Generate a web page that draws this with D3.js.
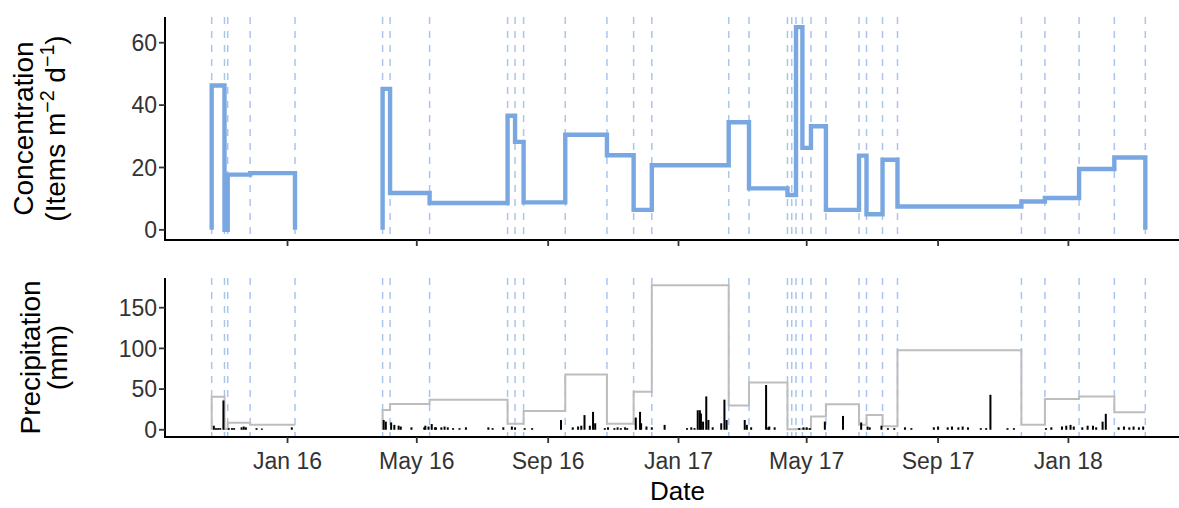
<!DOCTYPE html>
<html>
<head>
<meta charset="utf-8">
<script src="https://cdn.jsdelivr.net/npm/d3@7"></script>
<style>
  html, body { margin: 0; padding: 0; background: #ffffff; }
  svg { display: block; font-family: "Liberation Sans", Arial, Helvetica, sans-serif; }
</style>
</head>
<body>
<svg id="chart" width="1179" height="508"></svg>
<script>
// Sampling dates (trap deployment / collection), one dashed line each
const sampleDates = [
  "2015-10-22","2015-11-03","2015-11-06","2015-11-27","2016-01-08",
  "2016-03-30","2016-04-06","2016-05-13","2016-07-25","2016-08-01",
  "2016-08-09","2016-09-17","2016-10-26","2016-11-20","2016-12-07",
  "2017-02-17","2017-03-08","2017-04-13","2017-04-17","2017-04-21",
  "2017-04-27","2017-05-05","2017-05-19","2017-06-19","2017-06-26",
  "2017-07-11","2017-07-25","2017-11-18","2017-12-10","2018-01-11",
  "2018-02-13","2018-03-14"
];

// Concentration for each interval that starts at sampleDates[i] (null = no sampling)
const concentration = [
  46.3, 0, 17.7, 18.2, null,
  45.2, 11.8, 8.6, 36.6, 28.2,
  8.8, 30.5, 23.9, 6.4, 20.7,
  34.5, 13.3, 11.2, 11.2, 65.0,
  26.3, 33.2, 6.4, 23.8, 5.0,
  22.5, 7.5, 9.1, 10.2, 19.5,
  23.2
];

// Total precipitation over each sampling interval (mm)
const intervalPrecip = [
  40.7, 1, 8.5, 6.1, null,
  24.4, 31.7, 37, 7.5, 7.3,
  23, 68, 7.3, 46.8, 177.6,
  29.7, 58.2, 0.5, 0.5, 1,
  0.8, 16.3, 31.3, 6.1, 18.3,
  4.4, 97.8, 6.1, 37.8, 41,
  21.5
];

// Daily precipitation (mm)
const rainDays = [
  "2015-10-24","2015-10-26","2015-10-28","2015-10-30","2015-11-02","2015-11-07","2015-11-10","2015-11-12",
  "2015-11-19","2015-11-21","2015-11-23","2015-12-03","2015-12-08","2016-01-05",
  "2016-03-31","2016-04-02","2016-04-07","2016-04-10","2016-04-14","2016-04-16","2016-04-26",
  "2016-05-08","2016-05-09","2016-05-12","2016-05-15","2016-05-18","2016-05-19","2016-05-24","2016-05-27","2016-05-30",
  "2016-06-04","2016-06-10","2016-06-16","2016-07-07","2016-07-11","2016-07-21","2016-07-29","2016-08-01",
  "2016-08-10","2016-08-17","2016-09-13","2016-09-24","2016-09-29","2016-10-02","2016-10-05","2016-10-10",
  "2016-10-13","2016-10-15","2016-10-24","2016-10-27","2016-11-02","2016-11-05","2016-11-08","2016-11-12",
  "2016-11-14","2016-11-22","2016-11-26","2016-11-27","2016-12-02","2016-12-07","2016-12-19",
  "2017-01-09","2017-01-13","2017-01-16","2017-01-19","2017-01-21","2017-01-22","2017-01-24","2017-01-27",
  "2017-01-29","2017-02-02","2017-02-10","2017-02-13","2017-02-15","2017-03-04","2017-03-06","2017-03-10",
  "2017-03-24","2017-03-26","2017-03-27","2017-04-01","2017-04-24","2017-04-28","2017-05-01","2017-05-04",
  "2017-05-18","2017-06-04","2017-06-21","2017-06-27","2017-06-29","2017-07-10","2017-07-16","2017-07-22",
  "2017-08-01","2017-08-07","2017-08-28","2017-09-01","2017-09-10","2017-09-14","2017-09-20","2017-09-24",
  "2017-09-29","2017-10-11","2017-10-16","2017-10-20","2017-11-05","2017-11-11","2017-12-11","2017-12-16",
  "2017-12-26","2017-12-30","2018-01-03","2018-01-06","2018-01-14","2018-01-19","2018-01-24","2018-01-27",
  "2018-02-02","2018-02-05","2018-02-17","2018-02-22","2018-02-27","2018-03-03","2018-03-08","2018-03-12"
];
const rainMm = [
  5, 2, 2, 2, 36, 2, 2, 2,
  3, 4, 3, 2, 1.5, 3,
  12, 10, 9, 6, 5, 4, 3,
  3, 5, 4, 7, 3, 3, 3, 4, 3,
  2, 2, 3, 3, 2, 3, 4, 3,
  2, 2, 12, 3, 4, 5, 18, 5,
  22, 8, 2, 3, 2, 3, 2, 3,
  2, 15, 22, 8, 4, 3, 6,
  2, 3, 2, 24, 24, 20, 10, 41,
  12, 3, 8, 37, 12, 12, 6, 3,
  55, 3, 4, 3, 2, 3, 3, 2,
  10, 17, 9, 4, 3, 5, 2, 2,
  3, 2, 3, 4, 3, 4, 3, 4,
  3, 2, 2, 43, 2, 2, 2, 3,
  4, 5, 6, 4, 3, 5, 5, 3,
  10, 19.6, 3, 4, 3, 4, 3, 4
];

const concTicks = [0, 20, 40, 60];
const precipTicks = [0, 50, 100, 150];

const parse = d3.timeParse("%Y-%m-%d");
const dates = sampleDates.map(parse);

const svg = d3.select("#chart");
const W = 1179, H = 508;
svg.append("rect").attr("width", W).attr("height", H).attr("fill", "#ffffff");

const left = 165, right = 1192;
const topPanel = { y0: 17, y1: 240 };
const botPanel = { y0: 278, y1: 437 };

// x scale: data range with 5% padding on each side
const tMin = d3.min(dates), tMax = d3.max(dates);
const span = tMax - tMin;
const x = d3.scaleTime()
  .domain([new Date(+tMin - 0.05 * span), new Date(+tMax + 0.05 * span)])
  .range([left, right]);

const cMax = d3.max(concentration);
const yC = d3.scaleLinear().domain([-0.05 * cMax, 1.05 * cMax]).range([topPanel.y1, topPanel.y0]);
const pMax = d3.max(intervalPrecip);
const yP = d3.scaleLinear().domain([-0.05 * pMax, 1.05 * pMax]).range([botPanel.y1, botPanel.y0]);

const dashColor = "#a9c5ee";
function sampleLines(g, panel) {
  g.selectAll("line.sample").data(dates).join("line")
    .attr("class", "sample")
    .attr("x1", d => x(d)).attr("x2", d => x(d))
    .attr("y1", panel.y0).attr("y2", panel.y1)
    .attr("stroke", dashColor).attr("stroke-width", 1.5)
    .attr("stroke-dasharray", "7,7");
}

// Split intervals into contiguous runs, return step points per run
function runs(values, closeToZero) {
  const out = [];
  let cur = null;
  values.forEach((v, i) => {
    if (v == null) { if (cur) { out.push(cur); cur = null; } return; }
    if (!cur) cur = [[dates[i], 0]];
    cur.push([dates[i], v]);
    const next = values[i + 1];
    if (next == null) {
      cur.push([dates[i + 1], v]);
      if (closeToZero) cur.push([dates[i + 1], 0]);
      out.push(cur); cur = null;
    }
  });
  return out;
}

const tickFont = 23, titleFont = 28;
const axisColor = "#000000", tickColor = "#333333", labelColor = "#333333";

function yAxis(g, scale, ticks, panel) {
  g.append("line").attr("x1", left).attr("x2", left)
    .attr("y1", panel.y0).attr("y2", panel.y1 + 1)
    .attr("stroke", axisColor).attr("stroke-width", 2);
  ticks.forEach(t => {
    g.append("line").attr("x1", left - 6).attr("x2", left)
      .attr("y1", scale(t)).attr("y2", scale(t))
      .attr("stroke", tickColor).attr("stroke-width", 1.8);
    g.append("text").attr("x", left - 8).attr("y", scale(t))
      .attr("dy", "0.36em").attr("text-anchor", "end")
      .attr("font-size", tickFont).attr("fill", labelColor).text(t);
  });
}

const monthTicks = x.ticks(d3.timeMonth.every(4));
const fmt = d3.timeFormat("%b %y");
function xAxis(g, panel, withLabels) {
  g.append("line").attr("x1", left - 1).attr("x2", W)
    .attr("y1", panel.y1).attr("y2", panel.y1)
    .attr("stroke", axisColor).attr("stroke-width", 2);
  monthTicks.forEach(t => {
    g.append("line").attr("x1", x(t)).attr("x2", x(t))
      .attr("y1", panel.y1).attr("y2", panel.y1 + 6)
      .attr("stroke", tickColor).attr("stroke-width", 1.8);
    if (withLabels) {
      g.append("text").attr("x", x(t)).attr("y", panel.y1 + 32)
        .attr("text-anchor", "middle").attr("font-size", tickFont)
        .attr("fill", labelColor).text(fmt(t));
    }
  });
}

// ---- Concentration panel ----
const gTop = svg.append("g");
sampleLines(gTop, topPanel);
const lineC = d3.line().x(d => x(d[0])).y(d => yC(d[1])).curve(d3.curveStepAfter);
gTop.selectAll("path.conc").data(runs(concentration, true)).join("path")
  .attr("class", "conc")
  .attr("d", lineC)
  .attr("fill", "none").attr("stroke", "#79a7e1").attr("stroke-width", 4.4)
  .attr("stroke-linejoin", "miter");
yAxis(gTop, yC, concTicks, topPanel);
xAxis(gTop, topPanel, false);

// ---- Precipitation panel ----
const gBot = svg.append("g");
sampleLines(gBot, botPanel);
const lineP = d3.line().x(d => x(d[0])).y(d => yP(d[1])).curve(d3.curveStepAfter);
gBot.selectAll("path.precip").data(runs(intervalPrecip, false)).join("path")
  .attr("class", "precip")
  .attr("d", lineP)
  .attr("fill", "none").attr("stroke", "#bdbdbd").attr("stroke-width", 2);
const rain = rainDays.map((d, i) => ({ t: parse(d), v: rainMm[i] }));
gBot.selectAll("rect.rain").data(rain).join("rect")
  .attr("class", "rain")
  .attr("x", d => x(d.t) - 1)
  .attr("width", 2)
  .attr("y", d => yP(d.v))
  .attr("height", d => yP(0) - yP(d.v))
  .attr("fill", "#000000");
yAxis(gBot, yP, precipTicks, botPanel);
xAxis(gBot, botPanel, true);

// ---- Titles ----
function yTitle(cy, xBase1, xBase2, line1, line2parts) {
  svg.append("text")
    .attr("transform", `translate(${xBase1},${cy}) rotate(-90)`)
    .attr("text-anchor", "middle").attr("font-size", titleFont).attr("fill", "#000")
    .text(line1);
  const t2 = svg.append("text")
    .attr("transform", `translate(${xBase2},${cy}) rotate(-90)`)
    .attr("text-anchor", "middle").attr("font-size", titleFont).attr("fill", "#000");
  line2parts.forEach(p => {
    const s = t2.append("tspan").text(p.text);
    if (p.sup) s.attr("font-size", titleFont * 0.7).attr("baseline-shift", "super");
  });
}
const cyTop = (topPanel.y0 + topPanel.y1) / 2;
const cyBot = (botPanel.y0 + botPanel.y1) / 2;
yTitle(cyTop, 33, 65, "Concentration", [
  { text: "(Items m" }, { text: "\u22122", sup: true }, { text: " d" }, { text: "\u22121", sup: true }, { text: ")" }
]);
yTitle(cyBot, 40, 67, "Precipitation", [{ text: "(mm)" }]);

svg.append("text").attr("x", (left + 1190) / 2).attr("y", 500)
  .attr("text-anchor", "middle").attr("font-size", 26).attr("fill", "#000")
  .text("Date");
</script>
</body>
</html>
